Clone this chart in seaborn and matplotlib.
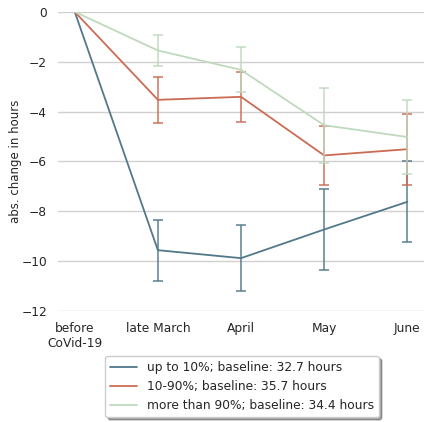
import seaborn as sns
import matplotlib.pyplot as plt
import numpy as np
import pandas as pd

periods = ["before\nCoVid-19", "late March", "April", "May", "June"]
groups = ["up to 10%; baseline: 32.7 hours",
          "10-90%; baseline: 35.7 hours",
          "more than 90%; baseline: 34.4 hours"]
low_change = [0, -9.56, -9.88, -8.73, -7.62]
low_err = [0, 1.22, 1.32, 1.64, 1.63]
mid_change = [0, -3.53, -3.41, -5.76, -5.51]
mid_err = [0, 0.93, 1.0, 1.2, 1.42]
high_change = [0, -1.55, -2.33, -4.55, -5.02]
high_err = [0, 0.64, 0.9, 1.5, 1.5]
colors = ["#52788a", "#cc6b53", "#bfd9bf"]

sns.set_theme(style="whitegrid")
fig = plt.figure(figsize=(4.24, 4.22), dpi=100)
ax = fig.add_axes([0.137, 0.263, 0.863, 0.709])

pos = np.arange(len(periods))
for name, vals, errs, c in zip(groups, [low_change, mid_change, high_change],
                               [low_err, mid_err, high_err], colors):
    df = pd.DataFrame({"pos": pos, "change": vals})
    sns.lineplot(data=df, x="pos", y="change", color=c, lw=1.3, ax=ax, label=name)
    m = np.array(errs) > 0
    ax.errorbar(pos[m], np.array(vals)[m], yerr=np.array(errs)[m], fmt="none",
                ecolor=c, elinewidth=1.3, capsize=3.5, capthick=1.3, alpha=0.8)

ax.set_xlim(-0.2, 4.2)
ax.set_ylim(-12, 0)
ax.set_xticks(pos)
ax.set_xticklabels(periods, fontsize=8.8)
ax.tick_params(axis="y", labelsize=8.8)
ax.set_xlabel("")
ax.set_ylabel("abs. change in hours", fontsize=8.5)
ax.yaxis.set_label_coords(-0.098, 0.5)
ax.grid(axis="x", visible=False)
ax.grid(axis="y", color="#d0d0d0", lw=1)
sns.despine(ax=ax, left=True, bottom=True)
ax.tick_params(axis="both", pad=2)

leg = ax.legend(loc="upper center", bbox_to_anchor=(0.503, -0.13), fontsize=8.8,
                frameon=True, shadow=True, fancybox=True, handlelength=2.2)
leg.get_frame().set_edgecolor("#cccccc")

fig.savefig("out.png", dpi=100)
